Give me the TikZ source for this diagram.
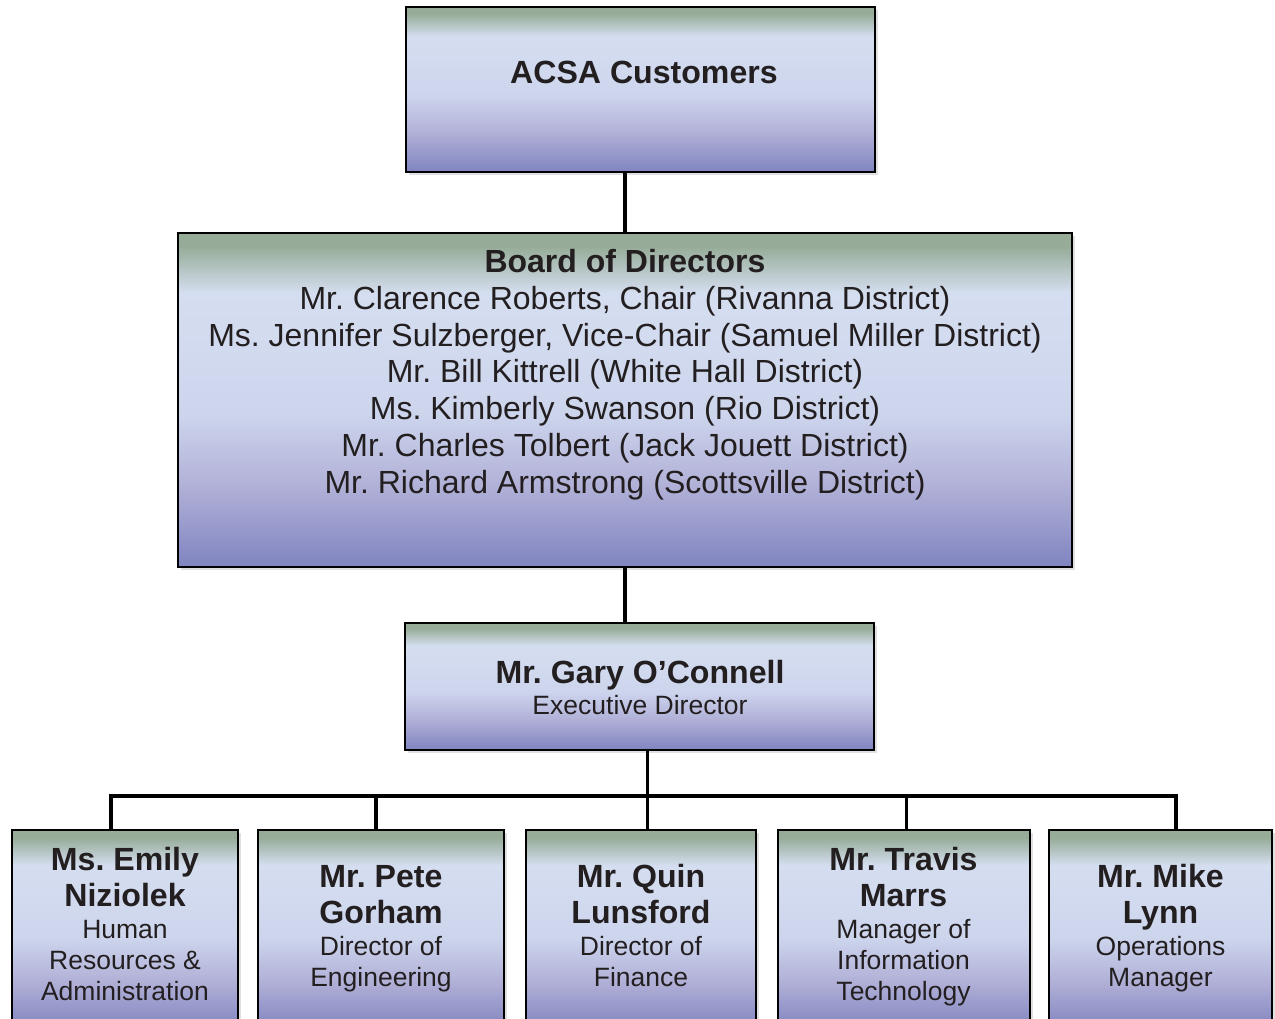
\documentclass[tikz,border=0pt]{standalone}
\usepackage{fontspec}
\setmainfont{Liberation Sans}
\usetikzlibrary{shadows}
\definecolor{ctop}{RGB}{150,172,152}
\definecolor{clight}{RGB}{213,222,240}
\definecolor{clighttwo}{RGB}{205,213,237}
\definecolor{clav}{RGB}{178,178,216}
\definecolor{cbot}{RGB}{128,132,192}
\definecolor{ink}{RGB}{35,31,32}
\pgfdeclareverticalshading{boxshade}{100bp}{color(0bp)=(cbot); color(25bp)=(cbot); color(37.5bp)=(clav); color(48bp)=(clighttwo); color(66bp)=(clight); color(73bp)=(ctop); color(75bp)=(ctop); color(100bp)=(ctop)}
\tikzset{
  box/.style={draw=black, line width=2pt, shade, shading=boxshade, inner sep=0pt, outer sep=0pt,
    drop shadow={shadow xshift=3pt, shadow yshift=-3pt, opacity=0.3, fill=black!40}},
  conn/.style={line width=3.5pt, draw=black},
  txt/.style={text=ink, inner sep=0pt, outer sep=0pt, align=center, anchor=base},
  bigbold/.style={font=\frenchspacing\bfseries\fontsize{32.1}{36.7}\selectfont},
  bigreg/.style={font=\frenchspacing\fontsize{32.0}{36.7}\selectfont},
  smallreg/.style={font=\frenchspacing\fontsize{26.5}{31}\selectfont},
}
\begin{document}
\begin{tikzpicture}[x=1pt,y=-1pt]
\useasboundingbox (0,0) rectangle (1275,1018);
% boxes
\node[box, minimum width=469pt, minimum height=165pt] (acsa) at (640,89.5) {};
\node[box, minimum width=894pt, minimum height=334pt] (board) at (625,400) {};
\node[box, minimum width=469pt, minimum height=127pt] (gary) at (639.5,686.5) {};
\node[box, minimum width=226pt, minimum height=200pt] (e1) at (125,929.5) {};
\node[box, minimum width=246pt, minimum height=200pt] (e2) at (381,929.5) {};
\node[box, minimum width=230pt, minimum height=200pt] (e3) at (641,929.5) {};
\node[box, minimum width=252pt, minimum height=200pt] (e4) at (903.5,929.5) {};
\node[box, minimum width=223pt, minimum height=200pt] (e5) at (1160.5,929.5) {};
% texts (base anchor = baseline of the last line)
\node[txt, bigbold] (tacsa) at (644,83.5) {ACSA Customers};
\node[txt, bigreg] (tboard) at (625,493) {\textbf{Board of Directors}\\
Mr. Clarence Roberts, Chair (Rivanna District)\\
Ms. Jennifer Sulzberger, Vice-Chair (Samuel Miller District)\\
Mr. Bill Kittrell (White Hall District)\\
Ms. Kimberly Swanson (Rio District)\\
Mr. Charles Tolbert (Jack Jouett District)\\
Mr. Richard Armstrong (Scottsville District)};
\node[txt, bigbold] (tgary) at (640,683.3) {Mr. Gary O’Connell};
\node[txt, smallreg] (tgaryr) at (640,714.3) {Executive Director};
\node[txt, bigbold] (n1) at (125,906.7) {Ms. Emily\\Niziolek};
\node[txt, smallreg] (r1) at (125,1000.5) {Human\\Resources \&\\Administration};
\node[txt, bigbold] (n2) at (381,923.7) {Mr. Pete\\Gorham};
\node[txt, smallreg] (r2) at (381,986.5) {Director of\\Engineering};
\node[txt, bigbold] (n3) at (641,923.7) {Mr. Quin\\Lunsford};
\node[txt, smallreg] (r3) at (641,986.5) {Director of\\Finance};
\node[txt, bigbold] (n4) at (903.5,906.7) {Mr. Travis\\Marrs};
\node[txt, smallreg] (r4) at (903.5,1000.5) {Manager of\\Information\\Technology};
\node[txt, bigbold] (n5) at (1160.5,923.7) {Mr. Mike\\Lynn};
\node[txt, smallreg] (r5) at (1160.5,986.5) {Operations\\Manager};
% connectors
\draw[conn] (board.north |- acsa.south) -- (board.north);
\draw[conn] (board.south) -- (board.south |- gary.north);
\coordinate (d1) at (111,796);
\coordinate (d2) at (376,796);
\coordinate (d3) at (647.5,796);
\coordinate (d4) at (906.5,796);
\coordinate (d5) at (1176,796);
\draw[conn] (d1 |- e1.north) -- (d1) -- (d5) -- (d5 |- e5.north);
\draw[conn] (gary.south -| d3) -- (d3 |- e3.north);
\draw[conn] (d2) -- (d2 |- e2.north);
\draw[conn] (d4) -- (d4 |- e4.north);
\end{tikzpicture}
\end{document}
